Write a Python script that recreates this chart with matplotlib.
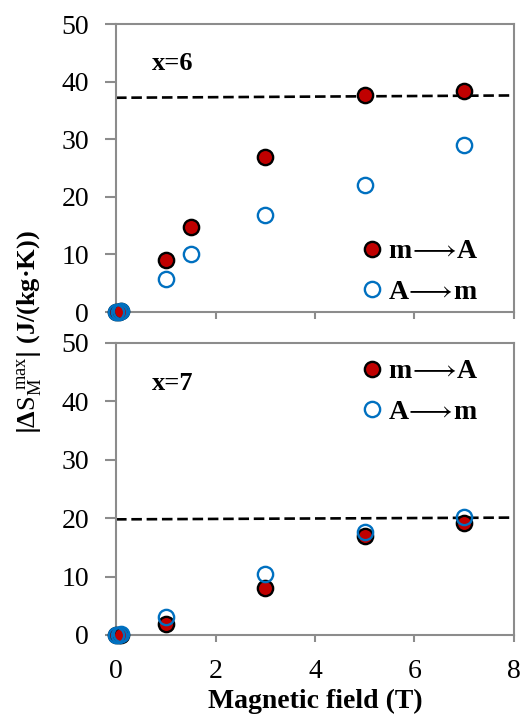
import matplotlib
matplotlib.use("Agg")
import matplotlib.pyplot as plt
from matplotlib.lines import Line2D

# data
field_6_mA = [0, 0.05, 0.1, 1, 1.5, 3, 5, 7]
ds_6_mA = [0, 0, 0.1, 9.1, 14.8, 26.9, 37.7, 38.4]
field_6_Am = [0, 0.05, 0.1, 1, 1.5, 3, 5, 7]
ds_6_Am = [0, 0, 0.2, 5.8, 10.1, 16.8, 22.0, 29.0]
sat_6 = ([0, 8], [37.2, 37.6])

field_7_mA = [0, 0.05, 0.1, 1, 3, 5, 7]
ds_7_mA = [0, 0, 0, 1.8, 8.0, 17.0, 19.1]
field_7_Am = [0, 0.05, 0.1, 1, 3, 5, 7]
ds_7_Am = [0, 0, 0.1, 3.0, 10.5, 17.7, 20.2]
sat_7 = ([0, 8], [19.8, 20.1])

labels = [r"m$\mathrm{\!\longrightarrow\!}$A", r"A$\mathrm{\!\longrightarrow\!}$m"]
panel_text = ["x=6", "x=7"]

plt.rcParams['font.family'] = ['Liberation Serif', 'DejaVu Serif', 'DejaVu Sans']
plt.rcParams['mathtext.fontset'] = 'custom'
plt.rcParams['mathtext.rm'] = 'Liberation Serif'
plt.rcParams['mathtext.bf'] = 'Liberation Serif:bold'
plt.rcParams['mathtext.default'] = 'bf'
plt.rcParams['mathtext.fallback'] = 'stix'

RED = '#c00000'
BLUE = '#0070c0'
GRAY = '#8c8c8c'

fig = plt.figure(figsize=(5.25, 7.15), dpi=100)
ax1 = fig.add_axes([0.221, 0.5636, 0.758, 0.4028])
ax2 = fig.add_axes([0.221, 0.1119, 0.758, 0.4084])

panels = [
    (ax1, field_6_mA, ds_6_mA, field_6_Am, ds_6_Am, sat_6, panel_text[0]),
    (ax2, field_7_mA, ds_7_mA, field_7_Am, ds_7_Am, sat_7, panel_text[1]),
]

MS = 11
for ax, fx, fy, ax_, ay, sat, txt in panels:
    ax.plot(sat[0], sat[1], color='black', lw=1.9, ls=(0, (4, 1.8)), zorder=1, clip_on=False)
    ax.plot(fx, fy, 'o', ms=MS, mfc=RED, mec='black', mew=1.7, ls='none', zorder=3, clip_on=False)
    ax.plot(ax_, ay, 'o', ms=MS, mfc='none', mec=BLUE, mew=1.7, ls='none', zorder=4, clip_on=False)
    ax.set_xlim(0, 8)
    ax.set_ylim(0, 50)
    ax.set_yticks([0, 10, 20, 30, 40, 50])
    ax.set_xticks([0, 2, 4, 6, 8])
    for s in ax.spines.values():
        s.set_color(GRAY)
        s.set_linewidth(1.5)
    ax.tick_params(axis='y', direction='out', length=8, width=1.5, color=GRAY, labelsize=20, pad=11.5)
    ax.tick_params(axis='x', direction='out', length=5, width=1.5, color=GRAY, labelsize=20, pad=12.5)
    ax.text(0.09, 0.84, txt, transform=ax.transAxes, fontsize=19, fontweight='bold')

ax1.tick_params(axis='x', labelbottom=False)

handles = [
    Line2D([], [], marker='o', ms=MS, mfc=RED, mec='black', mew=1.7, ls='none'),
    Line2D([], [], marker='o', ms=MS, mfc='none', mec=BLUE, mew=1.7, ls='none'),
]
leg_kw = dict(frameon=False, prop={'size': 20, 'weight': 'bold'}, handletextpad=-0.05,
              labelspacing=0.55, borderaxespad=0.0, borderpad=0.0, handlelength=1.2)
ax1.legend(handles, labels, loc='lower right', bbox_to_anchor=(0.91, 0.024), **leg_kw)
ax2.legend(handles, labels, loc='upper right', bbox_to_anchor=(0.91, 0.945), **leg_kw)

ax2.set_xlabel("Magnetic field (T)", fontsize=20, fontweight='bold', labelpad=3)
fig.text(0.057, 0.535, r"$\left|\Delta\mathrm{S}_{\mathrm{M}}^{\mathrm{\ max}}\right|$ (J/(kg·K))",
         rotation=90, fontsize=19, fontweight='bold', ha='center', va='center')

fig.savefig("out.png", dpi=100)
